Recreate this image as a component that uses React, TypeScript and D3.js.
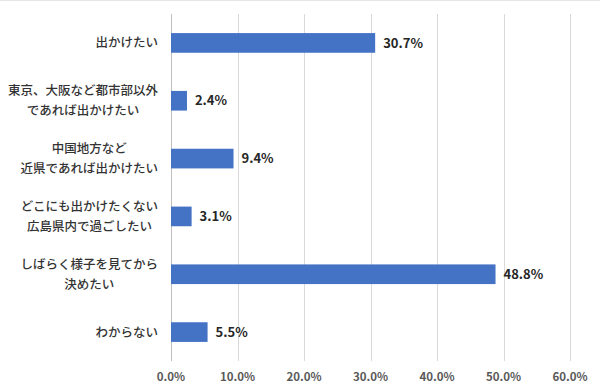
import * as d3 from "d3";
import { useEffect, useRef } from "react";

// ---- データ ----
const categories = [
  ["出かけたい"],
  ["東京、大阪など都市部以外", "であれば出かけたい"],
  ["中国地方など", "近県であれば出かけたい"],
  ["どこにも出かけたくない", "広島県内で過ごしたい"],
  ["しばらく様子を見てから", "決めたい"],
  ["わからない"],
];
const values = [30.7, 2.4, 9.4, 3.1, 48.8, 5.5];
const ticks = [0, 10, 20, 30, 40, 50, 60];

export default function App() {
  const ref = useRef<SVGSVGElement>(null);

  useEffect(() => {
    const width = 600;
    const height = 391;
    const margin = { top: 14, right: 30, bottom: 30, left: 171 };
    const font = "'Noto Sans CJK JP', 'Noto Sans', sans-serif";

    const svg = d3.select(ref.current);
    svg.selectAll("*").remove();

    const innerW = width - margin.left - margin.right;
    const innerH = height - margin.top - margin.bottom;

    const x = d3.scaleLinear().domain([0, 60]).range([0, innerW]);
    const y = d3
      .scaleBand<number>()
      .domain(values.map((_, i) => i))
      .range([0, innerH])
      .paddingInner(0.66)
      .paddingOuter(0.33);

    // 上の枠線
    svg.append("line")
      .attr("x1", 0).attr("x2", width)
      .attr("y1", 0.5).attr("y2", 0.5)
      .attr("stroke", "#e6e6e6");

    const g = svg.append("g").attr("transform", `translate(${margin.left},${margin.top})`);

    // 縦グリッド
    g.append("g")
      .selectAll("line")
      .data(ticks)
      .join("line")
      .attr("x1", (d) => Math.round(x(d)) + 0.5)
      .attr("x2", (d) => Math.round(x(d)) + 0.5)
      .attr("y1", 0)
      .attr("y2", innerH)
      .attr("stroke", (d) => (d === 0 ? "#bfbfbf" : "#d9d9d9"))
      .attr("stroke-width", 1);

    // 目盛りラベル
    g.append("g")
      .selectAll("text")
      .data(ticks)
      .join("text")
      .attr("x", (d) => x(d))
      .attr("y", innerH + 20)
      .attr("text-anchor", "middle")
      .attr("font-family", font)
      .attr("font-size", 11.5)
      .attr("font-weight", 600)
      .attr("fill", "#595959")
      .text((d) => d.toFixed(1) + "%");

    // 棒
    g.append("g")
      .selectAll("rect")
      .data(values)
      .join("rect")
      .attr("x", 0)
      .attr("y", (_, i) => y(i)!)
      .attr("width", (d) => x(d))
      .attr("height", y.bandwidth())
      .attr("fill", "#4472c4");

    // データラベル
    g.append("g")
      .selectAll("text")
      .data(values)
      .join("text")
      .attr("x", (d) => x(d) + 8)
      .attr("y", (_, i) => y(i)! + y.bandwidth() / 2)
      .attr("dy", "0.36em")
      .attr("font-family", font)
      .attr("font-size", 13)
      .attr("font-weight", 700)
      .attr("fill", "#262626")
      .text((d) => d.toFixed(1) + "%");

    // カテゴリラベル（右揃えのブロック内で中央揃え）
    const labelRight = -13;
    const lineH = 20;
    categories.forEach((lines, i) => {
      const cy = y(i)! + y.bandwidth() / 2;
      const grp = g.append("g");
      const texts = grp
        .selectAll("text")
        .data(lines)
        .join("text")
        .attr("font-family", font)
        .attr("font-size", 12.5)
        .attr("font-weight", 500)
        .attr("fill", "#333333")
        .attr("text-anchor", "middle")
        .attr("dy", "0.36em")
        .attr("y", (_, j) => cy + (j - (lines.length - 1) / 2) * lineH)
        .text((d) => d);
      let maxW = 0;
      texts.each(function () {
        maxW = Math.max(maxW, (this as SVGTextElement).getComputedTextLength());
      });
      texts.attr("x", labelRight - maxW / 2);
    });
  }, []);

  return (
    <svg
      ref={ref}
      width={600}
      height={391}
      style={{ position: "absolute", left: 0, top: 0, background: "#fff" }}
    />
  );
}
